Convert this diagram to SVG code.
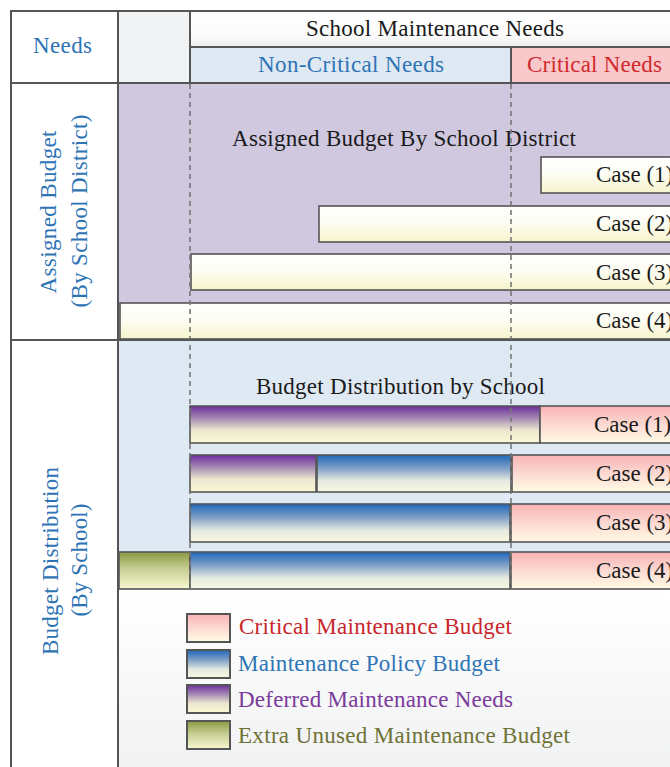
<svg xmlns="http://www.w3.org/2000/svg" width="670" height="767" viewBox="0 0 670 767">
<defs>
<linearGradient id="gYellow" x1="0" y1="0" x2="0" y2="1"><stop offset="0" stop-color="#ffffff"/><stop offset="0.45" stop-color="#fdfdf4"/><stop offset="1" stop-color="#f6f4cc"/></linearGradient>
<linearGradient id="gPurple" x1="0" y1="0" x2="0" y2="1"><stop offset="0" stop-color="#6c2d9c"/><stop offset="0.35" stop-color="#a98fb5"/><stop offset="0.65" stop-color="#ece6cf"/><stop offset="1" stop-color="#faf8d4"/></linearGradient>
<linearGradient id="gBlue" x1="0" y1="0" x2="0" y2="1"><stop offset="0" stop-color="#1d68ba"/><stop offset="0.35" stop-color="#7e9ec6"/><stop offset="0.7" stop-color="#e6ebe0"/><stop offset="1" stop-color="#f8f8e2"/></linearGradient>
<linearGradient id="gPink" x1="0" y1="0" x2="0" y2="1"><stop offset="0" stop-color="#f8b3b5"/><stop offset="0.5" stop-color="#fcd9d2"/><stop offset="1" stop-color="#fffbe4"/></linearGradient>
<linearGradient id="gGreen" x1="0" y1="0" x2="0" y2="1"><stop offset="0" stop-color="#89993f"/><stop offset="0.45" stop-color="#c6cd92"/><stop offset="1" stop-color="#f9f9d2"/></linearGradient>
<linearGradient id="gHead" x1="0" y1="0" x2="0" y2="1"><stop offset="0" stop-color="#ffffff"/><stop offset="0.7" stop-color="#fbfbfb"/><stop offset="1" stop-color="#ececec"/></linearGradient>
<linearGradient id="gLegend" x1="0" y1="0" x2="0" y2="1"><stop offset="0" stop-color="#ffffff"/><stop offset="1" stop-color="#f1f2f3"/></linearGradient>
</defs>
<style>
.t{font-family:"Liberation Serif","Times New Roman",serif;font-size:23px;}
.blk{fill:#1a1a1a;}
.blu{fill:#2e74b5;}
.red{fill:#d02a2c;}
.frame{stroke:#555;stroke-width:2;fill:none;}
.bar{stroke:#555;stroke-width:1.6;}
.dash{stroke:#777;stroke-width:1.6;stroke-dasharray:5,4;fill:none;}
.leg{stroke:#555;stroke-width:2;}
</style>
<rect width="670" height="767" fill="#ffffff"/>
<g id="backgrounds">
<rect x="190" y="11" width="480" height="36" fill="url(#gHead)"/>
<rect x="118" y="11" width="72" height="72" fill="#f1f2f4"/>
<rect x="190" y="47" width="321" height="36" fill="#dfe9f3"/>
<rect x="511" y="47" width="159" height="36" fill="#f9c8cb"/>
<rect x="118" y="83" width="552" height="257" fill="#cfc8df"/>
<rect x="118" y="340" width="552" height="250" fill="#dfe9f3"/>
<rect x="118" y="590" width="552" height="177" fill="url(#gLegend)"/>
</g>
<g id="header">
<text class="t blk" x="306" y="36" textLength="258">School Maintenance Needs</text>
<text class="t blu" x="258" y="72" textLength="186">Non-Critical Needs</text>
<text class="t red" x="527" y="72" textLength="135">Critical Needs</text>
<text class="t blu" x="33" y="53" textLength="59">Needs</text>
</g>
<g id="row-labels">
<text class="t blu" transform="rotate(-90)" x="-212" y="56" text-anchor="middle" textLength="163">Assigned Budget</text>
<text class="t blu" transform="rotate(-90)" x="-211" y="87" text-anchor="middle" textLength="193">(By School District)</text>
<text class="t blu" transform="rotate(-90)" x="-561" y="58" text-anchor="middle" textLength="188">Budget Distribution</text>
<text class="t blu" transform="rotate(-90)" x="-560" y="87" text-anchor="middle" textLength="113">(By School)</text>
</g>
<g id="assigned-budget">
<text class="t blk" x="232" y="146" textLength="344">Assigned Budget By School District</text>
<g id="ab-case1"><rect class="bar" x="541" y="157" width="140" height="36" fill="url(#gYellow)"/><text class="t blk" x="596" y="182">Case (1)</text></g>
<g id="ab-case2"><rect class="bar" x="319" y="206" width="362" height="36" fill="url(#gYellow)"/><text class="t blk" x="596" y="231">Case (2)</text></g>
<g id="ab-case3"><rect class="bar" x="191" y="254" width="490" height="36" fill="url(#gYellow)"/><text class="t blk" x="596" y="280">Case (3)</text></g>
<g id="ab-case4"><rect class="bar" x="120" y="303" width="561" height="36" fill="url(#gYellow)"/><text class="t blk" x="596" y="328">Case (4)</text></g>
</g>
<g id="budget-distribution">
<text class="t blk" x="256" y="394" textLength="289">Budget Distribution by School</text>
<g id="bd-case1">
<rect class="bar" x="190" y="406" width="350" height="37" fill="url(#gPurple)"/>
<rect class="bar" x="540" y="406" width="141" height="37" fill="url(#gPink)"/>
<text class="t blk" x="594" y="432">Case (1)</text>
</g>
<g id="bd-case2">
<rect class="bar" x="190" y="455" width="126" height="37" fill="url(#gPurple)"/>
<rect class="bar" x="317" y="455" width="194" height="37" fill="url(#gBlue)"/>
<rect class="bar" x="512" y="455" width="169" height="37" fill="url(#gPink)"/>
<text class="t blk" x="596" y="481">Case (2)</text>
</g>
<g id="bd-case3">
<rect class="bar" x="190" y="504" width="320" height="38" fill="url(#gBlue)"/>
<rect class="bar" x="511" y="504" width="170" height="38" fill="url(#gPink)"/>
<text class="t blk" x="596" y="530">Case (3)</text>
</g>
<g id="bd-case4">
<rect class="bar" x="119" y="552" width="71" height="37" fill="url(#gGreen)"/>
<rect class="bar" x="190" y="552" width="320" height="37" fill="url(#gBlue)"/>
<rect class="bar" x="511" y="552" width="170" height="37" fill="url(#gPink)"/>
<text class="t blk" x="596" y="578">Case (4)</text>
</g>
</g>
<g id="connectors">
<line class="dash" x1="190" y1="84" x2="190" y2="590"/>
<line class="dash" x1="511" y1="84" x2="511" y2="590"/>
</g>
<g id="frame">
<line class="frame" x1="11" y1="11" x2="670" y2="11"/>
<line class="frame" x1="11" y1="10" x2="11" y2="767"/>
<line class="frame" x1="118" y1="11" x2="118" y2="767"/>
<line class="frame" x1="190" y1="11" x2="190" y2="83"/>
<line class="frame" x1="190" y1="47" x2="670" y2="47"/>
<line class="frame" x1="511" y1="47" x2="511" y2="83"/>
<line class="frame" x1="11" y1="83" x2="670" y2="83"/>
<line class="frame" x1="11" y1="340" x2="670" y2="340"/>
</g>
<g id="legend">
<g id="leg-critical"><rect class="leg" x="187" y="614" width="43" height="28" fill="url(#gPink)"/><text class="t" x="239" y="634" fill="#c8262a" textLength="273">Critical Maintenance Budget</text></g>
<g id="leg-policy"><rect class="leg" x="187" y="650" width="43" height="28" fill="url(#gBlue)"/><text class="t" x="238" y="671" fill="#2e75b6" textLength="262">Maintenance Policy Budget</text></g>
<g id="leg-deferred"><rect class="leg" x="187" y="685" width="43" height="28" fill="url(#gPurple)"/><text class="t" x="238" y="707" fill="#7b3b9b" textLength="275">Deferred Maintenance Needs</text></g>
<g id="leg-extra"><rect class="leg" x="187" y="721" width="43" height="28" fill="url(#gGreen)"/><text class="t" x="238" y="743" fill="#6f7236" textLength="332">Extra Unused Maintenance Budget</text></g>
</g>
</svg>
